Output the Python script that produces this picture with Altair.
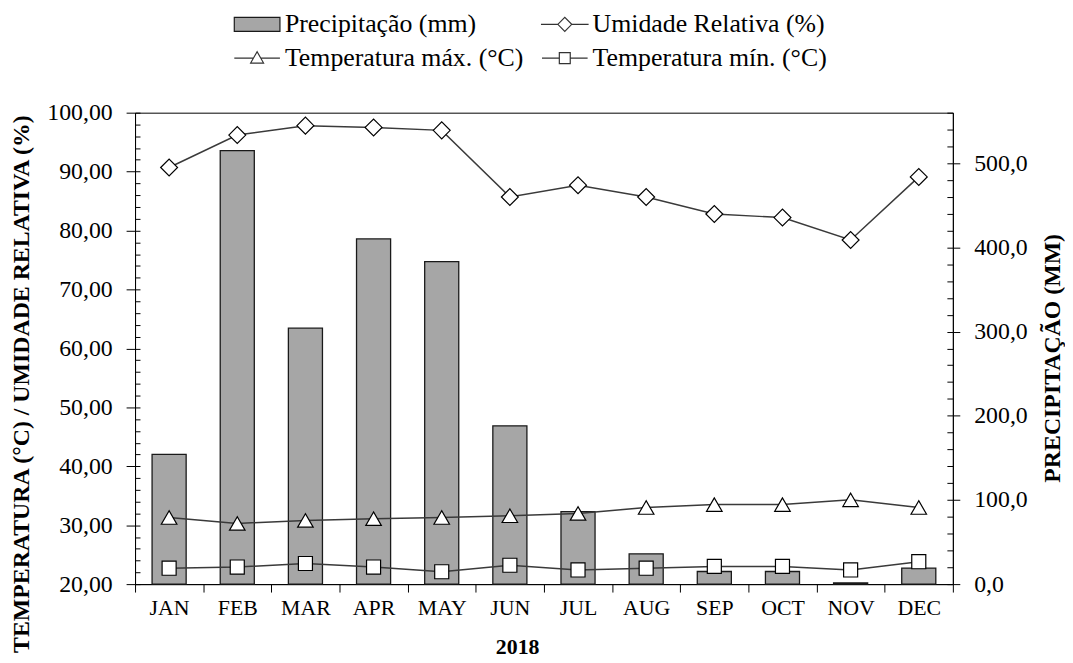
import altair as alt
import pandas as pd

months = ["JAN", "FEB", "MAR", "APR", "MAY", "JUN", "JUL", "AUG", "SEP", "OCT", "NOV", "DEC"]
precip = [154, 515, 304, 410, 383, 188, 86, 36, 15, 15, 1.5, 19]
humidity = [90.7, 96.2, 97.8, 97.5, 97.0, 85.7, 87.7, 85.7, 82.8, 82.2, 78.4, 89.1]
tmax = [31.3, 30.3, 30.8, 31.1, 31.3, 31.6, 32.0, 33.0, 33.5, 33.5, 34.3, 33.0]
tmin = [22.7, 22.9, 23.5, 22.9, 22.1, 23.2, 22.4, 22.7, 23.0, 23.0, 22.4, 23.8]

series_names = ["Precipitação (mm)", "Umidade Relativa (%)",
                "Temperatura máx. (°C)", "Temperatura mín. (°C)"]
line_series = series_names[1:]

FONT = "Liberation Serif"

bar_df = pd.DataFrame({"month": months, "precip": precip})
long_df = pd.DataFrame({
    "month": months * 3,
    "series": [line_series[0]] * 12 + [line_series[1]] * 12 + [line_series[2]] * 12,
    "value": humidity + tmax + tmin,
})
legend_df = pd.DataFrame({"legend": series_names})

x_enc = alt.X(
    "month:N", sort=months,
    scale=alt.Scale(paddingInner=0, paddingOuter=0),
    axis=alt.Axis(
        title="2018", labelAngle=0, tickBand="extent", tickSize=8,
        labelFontSize=22, labelPadding=6, labelColor="black",
        titleFontSize=22, titleFontWeight="bold", titleColor="black",
        titleX=385, titleY=70, titleBaseline="alphabetic",
        domainColor="black", tickColor="black",
    ),
)

left_scale = alt.Scale(domain=[20, 100], nice=False, zero=False)
right_scale = alt.Scale(domain=[0, 560], nice=False, zero=True)

# ---- precipitation bars (right axis)
bars = alt.Chart(bar_df).mark_bar(
    color="#a6a6a6", stroke="#1a1a1a", strokeWidth=1.3,
    width=alt.RelativeBandSize(0.5)
).encode(
    x=x_enc,
    y=alt.Y("precip:Q", scale=right_scale, axis=alt.Axis(
        orient="right", values=[0, 100, 200, 300, 400, 500],
        labelExpr="replace(format(datum.value, '.1f'), '.', ',')",
        labelFontSize=24, labelPadding=14, labelColor="black",
        tickSize=7, tickColor="black", domainColor="black", grid=False,
        title="PRECIPITAÇÃO (MM)", titleFontSize=24, titleFontWeight="bold",
        titleColor="black", titleAngle=270, titleX=100, titleY=247,
        titleBaseline="middle", titleAlign="center",
    )),
)
minor_right = alt.Chart(bar_df).mark_point(opacity=0).encode(
    x=x_enc,
    y=alt.Y("precip:Q", scale=right_scale, axis=alt.Axis(
        orient="right", values=list(range(0, 561, 20)), labels=False,
        domain=False, tickSize=6, offset=-6, title=None, grid=False,
        tickColor="black",
    )),
)

# ---- legend (symbols drawn as custom SVG paths)
rect_path = "M-2.3,-0.7L2.3,-0.7L2.3,0.7L-2.3,0.7Z"
diamond_path = "M-2.4,0L-0.7,0M0.7,0L2.4,0M-0.7,0L0,-0.7L0.7,0L0,0.7Z"
tri_path = "M-2.3,0L-0.36,0M0.36,0L2.3,0M-0.65,0.5L0,-0.65L0.65,0.5Z"
sq_path = "M-2.3,0L-0.55,0M0.55,0L2.3,0M-0.55,-0.55L0.55,-0.55L0.55,0.55L-0.55,0.55Z"

legend_props = dict(
    orient="none", legendX=110, legendY=-102, columns=2, direction="horizontal",
    symbolSize=400, symbolStrokeColor="black", symbolStrokeWidth=1.2,
    symbolOpacity=1,
    labelFont=FONT, labelFontSize=26, labelColor="black", labelOffset=15,
    title=None, gridAlign="each", columnPadding=14, rowPadding=8,
    labelLimit=400, padding=0,
)
legend_layer = alt.Chart(legend_df).transform_filter("false").mark_point(
    filled=True, strokeWidth=1.2, opacity=1
).encode(
    shape=alt.Shape("legend:N", scale=alt.Scale(
        domain=series_names, range=[rect_path, diamond_path, tri_path, sq_path]),
        legend=alt.Legend(**legend_props)),
    fill=alt.Fill("legend:N", scale=alt.Scale(
        domain=series_names, range=["#a6a6a6", "white", "white", "white"]),
        legend=alt.Legend(**legend_props)),
    stroke=alt.Stroke("legend:N", scale=alt.Scale(
        domain=series_names, range=["#1a1a1a", "#333333", "#333333", "#333333"]),
        legend=alt.Legend(**legend_props)),
)

bars_group = alt.layer(bars, minor_right, legend_layer).resolve_axis(y="independent")

# ---- lines (left axis)
y_left = alt.Y("value:Q", scale=left_scale, axis=alt.Axis(
    orient="left", values=list(range(20, 101, 10)),
    labelExpr="replace(format(datum.value, '.2f'), '.', ',')",
    labelFontSize=24, labelPadding=14, labelColor="black",
    tickSize=9, tickColor="black", domainColor="black", grid=False,
    title="TEMPERATURA  (°C) / UMIDADE RELATIVA (%)", titleFontSize=24,
    titleFontWeight="bold", titleColor="black", titleAngle=270,
    titleX=-114, titleY=273, titleBaseline="middle", titleAlign="center",
))

lines = alt.Chart(long_df).mark_line(color="#3a3a3a", strokeWidth=1.5).encode(
    x=x_enc, y=y_left, detail="series:N",
)
points = alt.Chart(long_df).mark_point(
    filled=True, fill="white", stroke="black", strokeWidth=1.2, opacity=1
).encode(
    x=x_enc, y=y_left,
    shape=alt.Shape("series:N", scale=alt.Scale(
        domain=line_series, range=["diamond", "triangle-up", "square"]), legend=None),
    size=alt.Size("series:N", scale=alt.Scale(
        domain=line_series, range=[290, 200, 210]), legend=None),
)

minor_left = alt.Chart(long_df).mark_point(opacity=0).encode(
    x=x_enc,
    y=alt.Y("value:Q", scale=left_scale, axis=alt.Axis(
        orient="left", values=list(range(20, 101, 2)), labels=False,
        domain=False, tickSize=5, offset=-5, title=None, grid=False,
        tickColor="black",
    )),
)

main_left = alt.layer(lines, points)
left_group = alt.layer(main_left, minor_left).resolve_axis(y="independent")

chart = alt.layer(bars_group, left_group).resolve_scale(
    y="independent", shape="independent", fill="independent",
    size="independent", stroke="independent",
).properties(
    width=824, height=475,
    autosize=alt.AutoSizeParams(type="none"),
    padding={"left": 128, "top": 103, "right": 113, "bottom": 77},
).configure(
    font=FONT,
).configure_view(
    stroke="black", strokeWidth=1,
).configure_axis(
    labelFont=FONT, titleFont=FONT,
)

chart.save("out.html", embed_options={"renderer": "svg", "actions": False})
